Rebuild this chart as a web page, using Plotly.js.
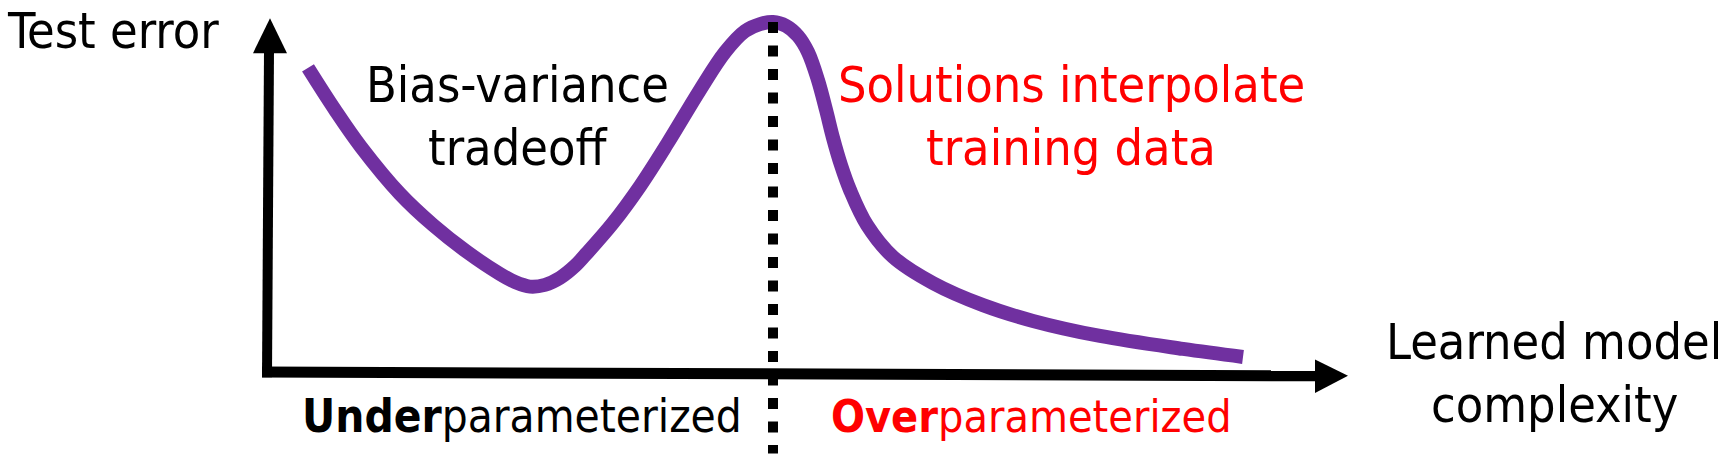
<!DOCTYPE html>
<html>
<head>
<meta charset="utf-8">
<script src="https://cdn.plot.ly/plotly-3.0.1.min.js"></script>
<style>
  html, body { margin: 0; padding: 0; background: #ffffff; }
  #chart { width: 1727px; height: 458px; }
</style>
</head>
<body>
<div id="chart"></div>
<script>
// ---- Data ----
const complexity = [0.41, 0.68, 0.94, 1.33, 1.66, 2.00, 2.33, 2.48, 2.63, 2.78, 2.93, 3.08, 3.20, 3.46, 3.73, 4.00, 4.33, 4.58, 4.78, 4.93, 5.06, 5.19, 5.31, 5.41, 5.51, 5.59, 5.66, 5.74, 5.83, 6.00, 6.26, 6.66, 7.16, 7.66, 8.33, 9.16, 9.76];
const testError  = [8.69, 7.49, 6.43, 5.09, 4.20, 3.43, 2.80, 2.57, 2.44, 2.49, 2.69, 3.03, 3.40, 4.26, 5.31, 6.51, 8.06, 9.14, 9.74, 9.94, 10.0, 9.89, 9.60, 9.14, 8.34, 7.49, 6.69, 5.91, 5.20, 4.20, 3.29, 2.54, 1.91, 1.46, 1.03, 0.66, 0.43];

const yAxisLabel = "Test error";
const xAxisLabel = ["Learned model", "complexity"];
const leftRegionText = ["Bias-variance", "tradeoff"];
const rightRegionText = ["Solutions interpolate", "training data"];
const underLabel = ["Under", "parameterized"];
const overLabel = ["Over", "parameterized"];

// ---- Styles ----
const W = 1727, H = 458;
const FONT = "DejaVu Sans Condensed, DejaVu Sans, Verdana, sans-serif";
const PURPLE = "#7030A0";
const RED = "#FF0000";
const BLACK = "#000000";

// peak of the curve -> interpolation threshold
let peakIdx = 0;
testError.forEach((v, i) => { if (v > testError[peakIdx]) peakIdx = i; });
const peakX = complexity[peakIdx];

const xRange = [-2.67, 14.60];
const yRange = [-2.457, 10.629];

const px = x => x / W;
const py = y => 1 - y / H;

const trace = {
  x: complexity,
  y: testError,
  type: "scatter",
  mode: "lines",
  line: { color: PURPLE, width: 14, shape: "spline", smoothing: 1 },
  hoverinfo: "skip",
  showlegend: false
};

const shapes = [
  // y axis line
  { type: "line", xref: "x", yref: "y", x0: 0.0, y0: -0.15, x1: 0.02, y1: 9.2,
    line: { color: BLACK, width: 10 } },
  // y axis arrowhead
  { type: "path", xref: "x", yref: "y",
    path: "M -0.14 9.11 L 0.03 10.11 L 0.20 9.11 Z",
    fillcolor: BLACK, line: { color: BLACK, width: 0 } },
  // x axis line
  { type: "line", xref: "x", yref: "y", x0: -0.05, y0: 0.0, x1: 10.52, y1: -0.11,
    line: { color: BLACK, width: 11 } },
  // x axis arrowhead
  { type: "path", xref: "x", yref: "y",
    path: "M 10.48 0.36 L 10.81 -0.11 L 10.48 -0.60 Z",
    fillcolor: BLACK, line: { color: BLACK, width: 0 } },
  // interpolation threshold dotted line
  { type: "line", xref: "x", yref: "y", x0: peakX, y0: 10.0, x1: peakX, y1: -2.33,
    line: { color: BLACK, width: 10, dash: "11px,12.5px" }, layer: "above" }
];

function ann(text, x, y, size, color, xanchor) {
  return {
    text: text, xref: "paper", yref: "paper", x: px(x), y: py(y),
    xanchor: xanchor || "center", yanchor: "middle", showarrow: false,
    font: { family: FONT, size: size, color: color }
  };
}

const annotations = [
  ann(yAxisLabel, 5, 31, 50, BLACK, "left"),
  ann(leftRegionText[0], 517, 85, 50, BLACK),
  ann(leftRegionText[1], 517, 148, 50, BLACK),
  ann(rightRegionText[0], 1071, 85, 50, RED),
  ann(rightRegionText[1], 1071, 148, 50, RED),
  ann(xAxisLabel[0], 1554, 342, 50, BLACK),
  ann(xAxisLabel[1], 1554, 405, 50, BLACK),
  ann("<b>" + underLabel[0] + "</b>" + underLabel[1], 300, 416, 45.5, BLACK, "left"),
  ann("<b>" + overLabel[0] + "</b>" + overLabel[1], 829, 416, 44.5, RED, "left")
];

const layout = {
  width: W, height: H,
  margin: { l: 0, r: 0, t: 0, b: 0, pad: 0 },
  paper_bgcolor: "#ffffff",
  plot_bgcolor: "#ffffff",
  xaxis: { range: xRange, visible: false, fixedrange: true, domain: [0, 1] },
  yaxis: { range: yRange, visible: false, fixedrange: true, domain: [0, 1] },
  shapes: shapes,
  annotations: annotations,
  showlegend: false
};

Plotly.newPlot("chart", [trace], layout, { displayModeBar: false, staticPlot: true });
</script>
</body>
</html>
